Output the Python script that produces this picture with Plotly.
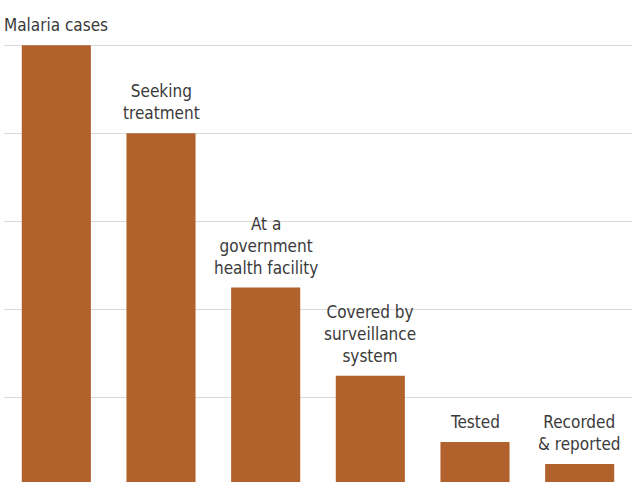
import plotly.graph_objects as go

stages = ["Malaria cases", "Seeking<br>treatment", "At a<br>government<br>health facility",
          "Covered by<br>surveillance<br>system", "Tested", "Recorded<br>& reported"]
values = [100, 80, 45, 25, 10, 5]
gridvals = [20, 40, 60, 80, 100]

BAR = "#B1612B"
TXT = "#3a3a3a"
FONT = "Liberation Sans Narrow, DejaVu Sans Condensed, Arial Narrow, sans-serif"

fig = go.Figure(go.Bar(x=list(range(len(stages))), y=values, marker_color=BAR,
                       marker_line_width=0, hoverinfo="skip"))

for i, (lab, v) in enumerate(zip(stages, values)):
    fig.add_annotation(x=i, y=v, text=lab, showarrow=False, yanchor="bottom", yshift=8,
                       font=dict(family=FONT, size=17, color=TXT))

fig.update_layout(
    width=632, height=482,
    margin=dict(l=4, r=0, t=43, b=0),
    plot_bgcolor="white", paper_bgcolor="white",
    bargap=0.34, showlegend=False,
    font=dict(family=FONT, size=17, color=TXT),
)
fig.update_xaxes(visible=False, range=[-0.5, len(stages) - 0.5])
fig.update_yaxes(range=[0.9, 100.5], tickvals=gridvals, showticklabels=False,
                 showgrid=True, gridcolor="#d9d9d9", gridwidth=1, zeroline=False)

# page has a default 8px body margin; drop it so the 632x482 figure fills the window
fig.write_html("out.html", config={"displayModeBar": False},
               post_script="document.body.style.margin='0';document.body.style.overflow='hidden';")
